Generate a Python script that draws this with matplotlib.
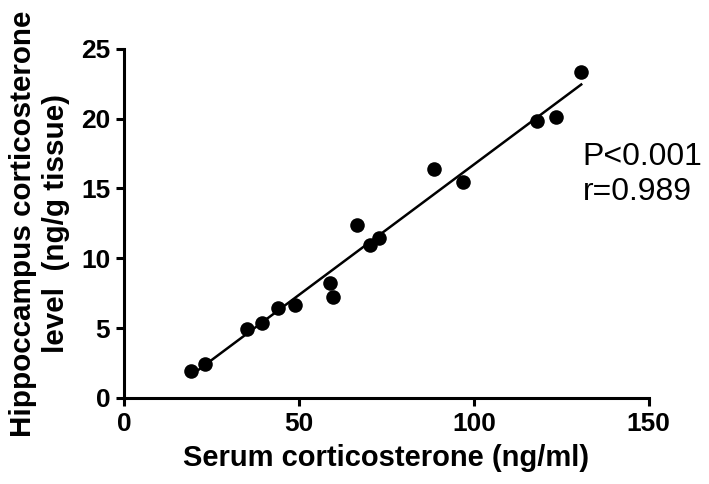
import numpy as np
import matplotlib
matplotlib.use("Agg")
import matplotlib.pyplot as plt
from matplotlib import font_manager

serum = [19.1, 23.1, 35.1, 39.5, 44.1, 48.9, 58.9, 59.7, 66.5, 70.2, 72.8,
         88.5, 96.9, 118.1, 123.6, 130.7]
hippo = [1.94, 2.46, 4.95, 5.35, 6.47, 6.64, 8.24, 7.24, 12.35, 10.97, 11.45,
         16.37, 15.43, 19.86, 20.12, 23.37]
xticks = [0, 50, 100, 150]
yticks = [0, 5, 10, 15, 20, 25]

names = {f.name for f in font_manager.fontManager.ttflist}
narrow = "Liberation Sans Narrow" if "Liberation Sans Narrow" in names else "Liberation Sans"

fig = plt.figure(figsize=(7.09, 4.84), dpi=100)
ax = fig.add_axes([0.175, 0.178, 0.740, 0.721])

ax.scatter(serum, hippo, s=110, color="black", zorder=3, linewidths=0)
k, b = np.polyfit(serum, hippo, 1)
xs = np.array([min(serum), max(serum)])
ax.plot(xs, k * xs + b, color="black", lw=1.8)

ax.set_xlim(0, 150)
ax.set_ylim(0, 25)
ax.set_xticks(xticks)
ax.set_yticks(yticks)
for s in ["top", "right"]:
    ax.spines[s].set_visible(False)
for s in ["left", "bottom"]:
    ax.spines[s].set_linewidth(2.2)
ax.tick_params(width=2.2, length=6, direction="out", pad=4)
for lab in ax.get_xticklabels() + ax.get_yticklabels():
    lab.set_fontfamily(narrow)
    lab.set_fontweight("bold")
    lab.set_fontsize(19)

ax.set_xlabel("Serum corticosterone (ng/ml)", fontfamily=narrow, fontweight="bold",
              fontsize=21, labelpad=6)
ax.set_ylabel("Hippoccampus corticosterone\nlevel  (ng/g tissue)", fontfamily=narrow,
              fontweight="bold", fontsize=21.3, labelpad=8, linespacing=1.2)

ax.text(0.874, 0.64, "P<0.001\nr=0.989", transform=ax.transAxes, fontsize=23,
        fontfamily="Liberation Sans", ha="left", va="center", linespacing=1.25)

fig.savefig("out.png", dpi=100)
